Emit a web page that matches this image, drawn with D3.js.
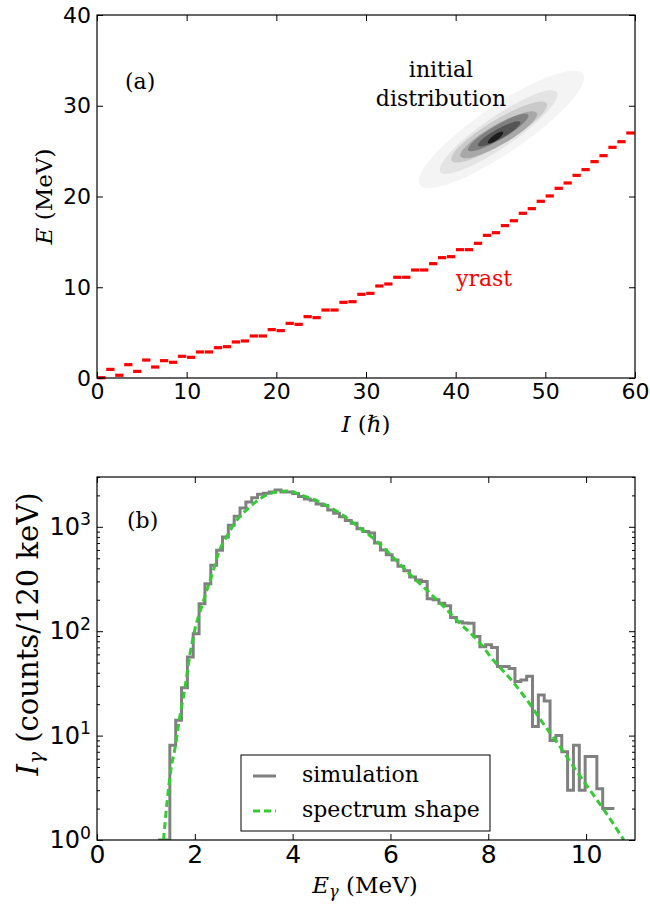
<!DOCTYPE html>
<html><head><meta charset="utf-8">
<script src="https://cdn.jsdelivr.net/npm/d3@7"></script>
<style>body{margin:0;background:#fff} svg{display:block}</style>
</head><body>
<svg id="c" width="650" height="907"></svg>
<script>
// ---------- DATA ----------
// Panel (a): yrast line, E (MeV) for spins I = 0..59
const yrastSpin = d3.range(0, 60);
const yrastE = [0.03,0.95,0.3,1.47,0.73,1.98,1.21,1.91,1.73,2.39,
  2.28,2.87,2.87,3.34,3.45,3.97,4.08,4.63,4.63,5.33,
  5.22,6.02,5.91,6.76,6.65,7.49,7.49,8.34,8.41,9.22,
  9.33,10.14,10.36,11.1,11.1,11.9,11.9,12.6,13.26,13.37,
  14.14,14.14,14.84,15.72,16.01,16.79,17.33,18.15,18.66,19.47,
  20.06,20.9,21.49,22.33,22.96,23.84,24.5,25.42,26.04,27.0];
// initial distribution contour levels: major-axis end points (I,E) and minor/major ratio
const contourI1 = [36.0, 38.3, 39.55, 40.55, 41.4, 42.5, 43.6];
const contourE1 = [21.3, 22.7, 23.95, 24.4, 25.1, 25.6, 25.9];
const contourI2 = [54.2, 51.3, 50.15, 49.04, 48.1, 47.2, 45.3];
const contourE2 = [33.5, 31.5, 30.27, 29.2, 29.0, 28.2, 27.1];
const contourRatio = [0.24, 0.22, 0.22, 0.23, 0.21, 0.21, 0.3];

// Panel (b): gamma spectrum, 120 keV bins
const binStart = 1.25, binWidth = 0.1196;
const simCounts = [0.5,0.5,8.1,14,28.7,56.6,94.6,183,285,428,
  595,798,1033,1260,1513,1729,1900,2050,2100,2150,
  2250,2150,2150,2080,1950,1850,1800,1650,1600,1450,
  1350,1250,1150,1080,960,900,870,700,600,540,
  480,420,380,330,310,300,205,200,185,175,
  135,123,120,119,89,71,74,70,46,46,
  44,33,34,37,12.2,24.5,21.5,9,10,7,
  3,8.1,3,6.3,6.3,3.1,2,2];
// smooth spectrum shape
const shapeE = [1.36,1.43,1.51,1.6,1.68,1.8,1.9,2.0,2.16,2.38,2.48,2.65,2.86,3.13,3.4,3.67,3.9,4.2,4.6,5.0,5.38,5.7,6.06,6.4,6.74,7.1,7.42,7.8,8.1,8.45,8.79,9.1,9.47,9.8,10.15,10.45,10.77];
const shapeI = [1.0,2.25,4.7,7.8,14,29,60,103,185,385,556,803,1160,1560,1940,2160,2200,2000,1680,1320,968,740,508,350,248,170,119,80,53,35,21.9,13.5,7.8,4.6,2.7,1.7,1.0];

const xTicksA = [0,10,20,30,40,50,60];
const yTicksA = [0,10,20,30,40];
const xTicksB = [0,2,4,6,8,10];
const yTicksB = [1,10,100,1000];

// ---------- STYLE / LAYOUT ----------
const greys = ["#f4f4f4","#e4e4e4","#cacaca","#a8a8a8","#808080","#555555","#1c1c1c"];
const serif = "DejaVu Serif", sans = "DejaVu Sans";
const svg = d3.select("#c");
const A = {l:97, r:635, t:15, b:378};
const B = {l:97, r:635, t:477, b:840};

const xA = d3.scaleLinear([0,60],[A.l,A.r]);
const yA = d3.scaleLinear([0,40],[A.b,A.t]);
const xB = d3.scaleLinear([0,11],[B.l,B.r]);
const yB = d3.scaleLog([1,3000],[B.b,B.t]);

function frame(P, xs, ys, xt, yt, fsX, fsY, yfmt, minorY){
  const g = svg.append("g");
  const ax = g.append("g").attr("transform",`translate(0,${P.b})`)
    .call(d3.axisBottom(xs).tickValues(xt).tickSizeInner(-6).tickSizeOuter(0).tickPadding(5));
  ax.selectAll("text").attr("font-family",sans).attr("font-size",fsX).attr("fill","#000");
  g.append("g").attr("transform",`translate(0,${P.t})`)
    .call(d3.axisTop(xs).tickValues(xt).tickSizeInner(-6).tickSizeOuter(0).tickFormat(""));
  const ay = g.append("g").attr("transform",`translate(${P.l},0)`)
    .call(d3.axisLeft(ys).tickValues(yt).tickSizeInner(-6).tickSizeOuter(0).tickPadding(6).tickFormat(yfmt? ()=>"" : d3.format("d")));
  ay.selectAll("text").attr("font-family",sans).attr("font-size",fsY).attr("fill","#000");
  if (yfmt) ay.selectAll(".tick text").each(function(d){ yfmt(d3.select(this), d); });
  g.append("g").attr("transform",`translate(${P.r},0)`)
    .call(d3.axisRight(ys).tickValues(yt).tickSizeInner(-6).tickSizeOuter(0).tickFormat(""));
  if (minorY){
    g.append("g").attr("transform",`translate(${P.l},0)`)
      .call(d3.axisLeft(ys).tickValues(minorY).tickSizeInner(-3).tickSizeOuter(0).tickFormat(""));
    g.append("g").attr("transform",`translate(${P.r},0)`)
      .call(d3.axisRight(ys).tickValues(minorY).tickSizeInner(-3).tickSizeOuter(0).tickFormat(""));
  }
  g.selectAll(".domain").remove();
  g.selectAll(".tick line").attr("stroke","#000").attr("stroke-width",1);
  g.append("rect").attr("x",P.l).attr("y",P.t).attr("width",P.r-P.l).attr("height",P.b-P.t)
    .attr("fill","none").attr("stroke","#000").attr("stroke-width",1.2);
}

// ---------- PANEL A ----------
const gA = svg.append("g");
contourI1.forEach((_, i) => {
  const x1 = xA(contourI1[i]), y1 = yA(contourE1[i]);
  const x2 = xA(contourI2[i]), y2 = yA(contourE2[i]);
  const a = Math.hypot(x2-x1, y2-y1)/2;
  const ang = Math.atan2(y2-y1, x2-x1)*180/Math.PI;
  gA.append("ellipse")
    .attr("transform",`translate(${(x1+x2)/2},${(y1+y2)/2}) rotate(${ang})`)
    .attr("rx", a).attr("ry", a*contourRatio[i]).attr("fill", greys[i]);
});
gA.selectAll("rect.yr").data(yrastSpin).join("rect").attr("class","yr")
  .attr("x", d => xA(d+0.03)).attr("width", xA(0.92)-xA(0))
  .attr("y", (d,i) => yA(yrastE[i]) - 1.6).attr("height", 3.2)
  .attr("fill","#ff0000");

frame(A, xA, yA, xTicksA, yTicksA, 22, 22, null, null);

svg.append("text").attr("x",125).attr("y",89).attr("font-family",serif).attr("font-size",22).text("(a)");
svg.append("text").attr("x",441).attr("y",77).attr("text-anchor","middle").attr("font-family",serif).attr("font-size",22).text("initial");
svg.append("text").attr("x",441).attr("y",106).attr("text-anchor","middle").attr("font-family",serif).attr("font-size",22).text("distribution");
svg.append("text").attr("x",456).attr("y",286).attr("font-family",serif).attr("font-size",22).attr("fill","#ff0000").text("yrast");

// axis labels A
const xlA = svg.append("text").attr("x",(A.l+A.r)/2).attr("y",432).attr("text-anchor","middle")
  .attr("font-family",serif).attr("font-size",23);
xlA.append("tspan").attr("font-style","italic").text("I");
xlA.append("tspan").text(" (\u210F)");
const ylA = svg.append("text").attr("transform",`translate(52,${(A.t+A.b)/2}) rotate(-90)`).attr("text-anchor","middle")
  .attr("font-family",serif).attr("font-size",23);
ylA.append("tspan").attr("font-style","italic").text("E");
ylA.append("tspan").text(" (MeV)");

// ---------- PANEL B ----------
svg.append("clipPath").attr("id","clipB").append("rect")
  .attr("x",B.l).attr("y",B.t).attr("width",B.r-B.l).attr("height",B.b-B.t);
const gB = svg.append("g").attr("clip-path","url(#clipB)");
const histPts = simCounts.map((v,i) => [binStart + i*binWidth, v]);
histPts.push([binStart + simCounts.length*binWidth, simCounts[simCounts.length-1]]);
const stepLine = d3.line().x(d => xB(d[0])).y(d => yB(Math.max(d[1],1))).curve(d3.curveStepAfter);
gB.append("path").attr("d", stepLine(histPts)).attr("fill","none")
  .attr("stroke","#808080").attr("stroke-width",3).attr("stroke-linejoin","miter");
const shapeLine = d3.line().x((d,i) => xB(shapeE[i])).y((d,i) => yB(shapeI[i])).curve(d3.curveMonotoneX);
gB.append("path").attr("d", shapeLine(shapeE)).attr("fill","none")
  .attr("stroke","#33cc33").attr("stroke-width",3).attr("stroke-dasharray","7,4");

const minorB = [];
[1,10,100,1000].forEach(dec => d3.range(2,10).forEach(m => { if (dec*m <= 3000) minorB.push(dec*m); }));
frame(B, xB, yB, xTicksB, yTicksB, 25, 24, (sel, d) => {
  sel.text("10").append("tspan").attr("dy","-0.55em").attr("font-size","72%").text(Math.round(Math.log10(d)));
}, minorB);

svg.append("text").attr("x",127).attr("y",528).attr("font-family",serif).attr("font-size",22).text("(b)");

// legend
const lg = svg.append("g");
lg.append("rect").attr("x",241).attr("y",755).attr("width",249).attr("height",76)
  .attr("fill","#fff").attr("stroke","#000").attr("stroke-width",1);
lg.append("line").attr("x1",253).attr("x2",276).attr("y1",776).attr("y2",776)
  .attr("stroke","#808080").attr("stroke-width",3);
lg.append("line").attr("x1",253).attr("x2",276).attr("y1",811).attr("y2",811)
  .attr("stroke","#33cc33").attr("stroke-width",3).attr("stroke-dasharray","7,4");
lg.append("text").attr("x",302).attr("y",782).attr("font-family",serif).attr("font-size",22).text("simulation");
lg.append("text").attr("x",302).attr("y",817).attr("font-family",serif).attr("font-size",22).text("spectrum shape");

// axis labels B
const xlB = svg.append("text").attr("x",365).attr("y",893).attr("text-anchor","middle")
  .attr("font-family",serif).attr("font-size",23);
xlB.append("tspan").attr("font-style","italic").text("E");
xlB.append("tspan").attr("font-style","italic").attr("font-size","70%").attr("dy","0.25em").text("\u03B3");
xlB.append("tspan").attr("dy","-0.18em").text(" (MeV)");
const ylB = svg.append("text").attr("transform",`translate(38,634) rotate(-90)`).attr("text-anchor","middle")
  .attr("font-family",serif).attr("font-size",29);
ylB.append("tspan").attr("font-style","italic").text("I");
ylB.append("tspan").attr("font-style","italic").attr("font-size","70%").attr("dy","0.25em").text("\u03B3");
ylB.append("tspan").attr("dy","-0.18em").text(" (counts/120 keV)");
</script>
</body></html>
